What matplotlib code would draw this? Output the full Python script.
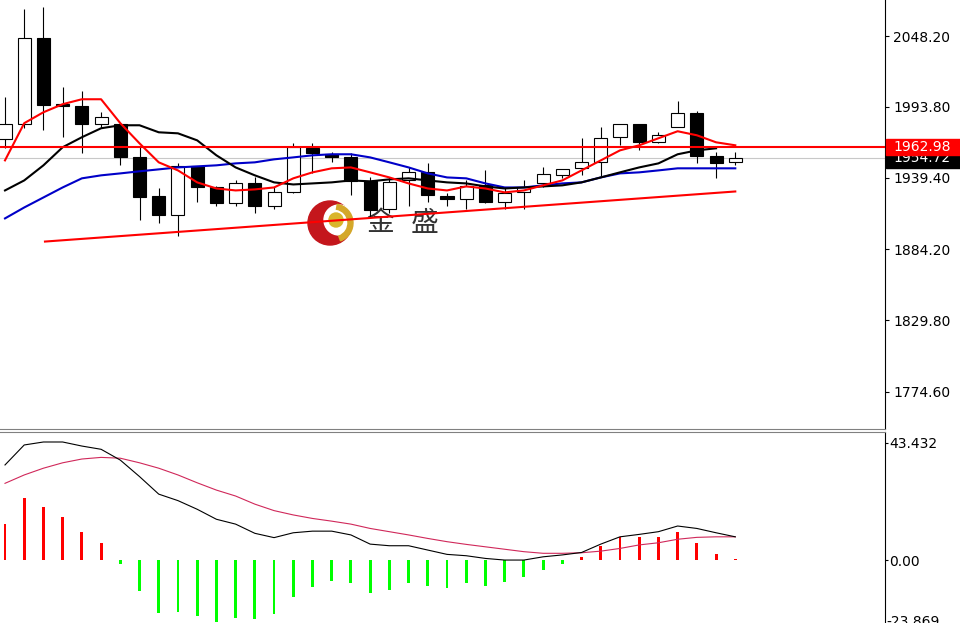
import matplotlib
matplotlib.use("Agg")
import matplotlib.pyplot as plt
import matplotlib.transforms as mtransforms
from matplotlib.patches import Rectangle, Circle, Wedge
import numpy as np

# candles (oldest first)
opens = [1968.8, 1980.4, 2046.7, 1995.8, 1994.3, 1980.4, 1980.4, 1954.9, 1924.9, 1911.0,
         1948.0, 1931.8, 1919.5, 1934.9, 1917.9, 1928.0, 1961.9, 1957.3, 1954.9, 1936.5,
         1914.9, 1937.2, 1943.4, 1924.9, 1923.3, 1933.4, 1920.3, 1928.0, 1934.9, 1941.1,
         1946.5, 1951.1, 1970.4, 1980.4, 1966.5, 1978.1, 1988.9, 1955.7, 1951.1]
highs = [2001.4, 2069.0, 2070.6, 2008.9, 2005.8, 1989.6, 1981.0, 1962.7, 1931.0, 1950.3,
         1948.4, 1932.6, 1937.2, 1939.5, 1931.8, 1965.7, 1965.7, 1958.8, 1958.0, 1939.5,
         1939.5, 1947.2, 1950.3, 1927.2, 1937.2, 1944.9, 1931.8, 1937.2, 1947.2, 1945.9,
         1969.6, 1978.1, 1980.6, 1980.6, 1974.2, 1998.1, 1990.4, 1958.8, 1958.8]
lows = [1961.9, 1977.3, 1975.8, 1970.4, 1958.0, 1977.3, 1948.8, 1906.4, 1904.1, 1894.8,
        1920.3, 1917.9, 1917.9, 1911.8, 1915.6, 1927.5, 1942.6, 1951.1, 1925.7, 1908.7,
        1911.8, 1917.9, 1920.3, 1917.9, 1915.6, 1919.5, 1914.9, 1915.6, 1931.8, 1938.8,
        1941.1, 1940.3, 1964.2, 1960.3, 1966.3, 1977.9, 1950.3, 1938.8, 1948.8]
closes = [1980.4, 2046.7, 1995.0, 1994.3, 1980.4, 1985.8, 1954.9, 1924.1, 1911.0, 1948.0,
          1931.8, 1919.5, 1934.9, 1917.9, 1928.0, 1962.7, 1958.0, 1954.9, 1936.5, 1914.1,
          1935.7, 1943.4, 1925.7, 1923.3, 1932.6, 1920.3, 1927.2, 1931.8, 1941.8, 1945.7,
          1951.1, 1969.6, 1980.4, 1966.5, 1971.9, 1988.9, 1955.7, 1950.3, 1954.72]

ma_red = [1952.6, 1981.2, 1989.6, 1995.8, 1999.6, 1999.6, 1981.2, 1965.7, 1951.1, 1944.9,
          1935.7, 1931.0, 1929.5, 1930.3, 1931.8, 1938.8, 1943.4, 1946.5, 1947.2, 1943.4,
          1939.5, 1934.9, 1931.0, 1929.5, 1932.6, 1931.0, 1928.0, 1929.5, 1933.4, 1937.2,
          1944.9, 1952.6, 1960.3, 1964.2, 1969.6, 1975.0, 1971.9, 1966.5, 1964.2]
ma_black = [1929.5, 1937.2, 1948.8, 1962.7, 1970.4, 1977.3, 1979.6, 1979.6, 1974.2, 1973.4,
            1968.0, 1956.5, 1947.2, 1941.1, 1935.7, 1934.1, 1934.9, 1935.7, 1937.2, 1936.5,
            1938.0, 1938.8, 1937.2, 1935.7, 1934.9, 1932.6, 1931.0, 1931.8, 1932.6, 1933.4,
            1935.7, 1939.5, 1943.4, 1947.2, 1950.3, 1957.3, 1960.3, 1961.9]
ma_blue = [1908.0, 1916.4, 1924.1, 1931.8, 1938.8, 1941.1, 1942.6, 1944.2, 1945.7, 1947.2,
           1948.0, 1948.8, 1950.3, 1951.1, 1953.4, 1954.9, 1956.5, 1957.3, 1957.3, 1954.9,
           1951.1, 1947.2, 1942.6, 1939.5, 1938.8, 1934.9, 1931.8, 1931.8, 1933.4, 1934.9,
           1935.7, 1939.5, 1942.6, 1943.4, 1944.9, 1946.5, 1946.5, 1946.5, 1946.5]

trend_x = [2.08, 38]
trend_y = [1890.2, 1928.7]
resistance = 1962.98
last_price = 1954.72
price_ticks = [2048.20, 1993.80, 1939.40, 1884.20, 1829.80, 1774.60]

hist = [13.2, 22.9, 19.5, 15.8, 10.3, 6.2, -1.6, -11.5, -19.5, -19.1,
        -20.7, -22.8, -21.6, -22.0, -20.1, -13.8, -9.9, -7.8, -8.6, -12.3,
        -11.1, -8.6, -9.5, -10.3, -8.6, -9.5, -8.3, -6.4, -3.7, -1.6,
        1.2, 5.2, 8.6, 8.4, 8.4, 10.5, 6.4, 2.2, 0.3]
macd_line = [35.2, 42.6, 43.7, 43.7, 42.2, 41.0, 37.0, 30.9, 24.4, 22.0,
             18.8, 15.1, 13.3, 9.9, 8.3, 10.1, 10.7, 10.7, 9.3, 5.9,
             5.3, 5.3, 3.7, 2.1, 1.6, 0.6, 0.0, 0.0, 1.2, 1.9,
             2.8, 5.9, 8.6, 9.5, 10.5, 12.6, 11.7, 10.1, 8.6]
signal_line = [28.4, 31.5, 34.0, 36.0, 37.4, 38.0, 37.7, 36.0, 34.0, 31.5,
               28.6, 25.9, 23.7, 20.7, 18.3, 16.7, 15.4, 14.4, 13.3, 11.7,
               10.5, 9.3, 8.0, 6.8, 5.8, 4.9, 4.0, 3.1, 2.5, 2.5,
               2.7, 3.3, 4.3, 5.6, 6.4, 7.7, 8.4, 8.6, 8.6]
macd_ticks = [43.432, 0.00, -23.869]

W, H = 960, 623
fig = plt.figure(figsize=(W / 100, H / 100), dpi=100)
fig.patch.set_facecolor("white")

ax = fig.add_axes([0, (H - 429) / H, 885 / W, 429 / H])
axm = fig.add_axes([0, 0, 885 / W, (H - 432) / H])

x = np.arange(len(opens))
o = np.array(opens)
c = np.array(closes)
up = c >= o

# candles
ax.vlines(x, lows, highs, color="black", lw=0.8, zorder=2)
ax.bar(x[up], (c - o)[up], bottom=o[up], width=0.68, color="white",
       edgecolor="black", lw=0.8, zorder=3)
ax.bar(x[~up], (o - c)[~up], bottom=c[~up], width=0.68, color="black",
       edgecolor="black", lw=0.8, zorder=3)

ax.axhline(last_price, color="#c8c8c8", lw=0.8, zorder=1)
ax.plot(x, ma_blue, color="#0000c8", lw=1.5, zorder=4)
ax.plot(x[:len(ma_black)], ma_black, color="black", lw=1.5, zorder=4)
ax.plot(x, ma_red, color="#ff0000", lw=1.5, zorder=5)
ax.plot(trend_x, trend_y, color="#ff0000", lw=1.5, zorder=5)
ax.axhline(resistance, color="#ff0000", lw=1.5, zorder=5)

ax.set_xlim(-0.26, 45.79)
ax.set_ylim(1746.1, 2075.9)
ax.yaxis.tick_right()
ax.set_yticks(price_ticks)
ax.set_yticklabels([f"{v:.2f}" for v in price_ticks])
ax.tick_params(axis="y", length=3, width=0.8, pad=3, labelsize=10, colors="black")
ax.set_xticks([])
for s in ["left", "top"]:
    ax.spines[s].set_visible(False)
ax.spines["right"].set_color("black")
ax.spines["bottom"].set_color("#808080")

# price tags on the right axis (the red one covers the top of the black one)
bt = mtransforms.blended_transform_factory(ax.transAxes, ax.transData)
ax.add_patch(Rectangle((1.001, 1946.8), 0.085, 12.0, transform=bt, color="black",
                       clip_on=False, zorder=6))
ax.text(1.01, last_price, f"{last_price:.2f}", transform=bt, color="white", fontsize=10,
        va="center", ha="left", clip_on=False, zorder=7)
ax.add_patch(Rectangle((1.001, 1957.0), 0.085, 12.0, transform=bt, color="#ff0000",
                       clip_on=False, zorder=8))
ax.text(1.01, resistance, f"{resistance:.2f}", transform=bt, color="white", fontsize=10,
        va="center", ha="left", clip_on=False, zorder=9)

# watermark logo
px = mtransforms.IdentityTransform()
cx, cy = 330, H - 223
ax.add_patch(Circle((cx, cy), 22, transform=px, color="#c4161c", zorder=0.5, clip_on=False))
ax.add_patch(Circle((cx + 9, cy + 3), 15, transform=px, color="white", zorder=0.6, clip_on=False))
ax.add_patch(Wedge((cx + 4, cy), 19, -70, 80, width=5, transform=px, color="#d4a82a",
                   zorder=0.7, clip_on=False))
ax.add_patch(Circle((cx + 6, cy + 3), 7, transform=px, color="#d9b52c", zorder=0.8, clip_on=False))
ax.text(380, H - 223, "金", transform=px, fontsize=20, color="#333333",
        family=["Noto Sans CJK SC", "DejaVu Sans"], ha="center", va="center", zorder=0.9)
ax.text(425, H - 223, "盛", transform=px, fontsize=20, color="#333333",
        family=["Noto Sans CJK SC", "DejaVu Sans"], ha="center", va="center", zorder=0.9)

# MACD panel
h = np.array(hist)
axm.bar(x[h >= 0], h[h >= 0], width=0.15, color="#ff0000", zorder=2)
axm.bar(x[h < 0], h[h < 0], width=0.15, color="#00ff00", zorder=2)
axm.plot(x, signal_line, color="#d0285a", lw=0.8, zorder=3)
axm.plot(x, macd_line, color="black", lw=0.8, zorder=4)
axm.set_xlim(-0.26, 45.79)
axm.set_ylim(-23.3, 47.4)
axm.yaxis.tick_right()
axm.set_yticks(macd_ticks[:2])
axm.set_yticklabels(["43.432", "0.00"])
axm.tick_params(axis="y", length=2, width=0.8, pad=1, labelsize=10, colors="black")
axm.text(1.002, macd_ticks[2] + 1.0, "-23.869", transform=mtransforms.blended_transform_factory(
    axm.transAxes, axm.transData), fontsize=10, va="center", ha="left", clip_on=False)
axm.set_xticks([])
for s in ["left", "bottom"]:
    axm.spines[s].set_visible(False)
axm.spines["right"].set_color("black")
axm.spines["top"].set_color("#808080")

fig.savefig("out.png", dpi=100, facecolor="white")
